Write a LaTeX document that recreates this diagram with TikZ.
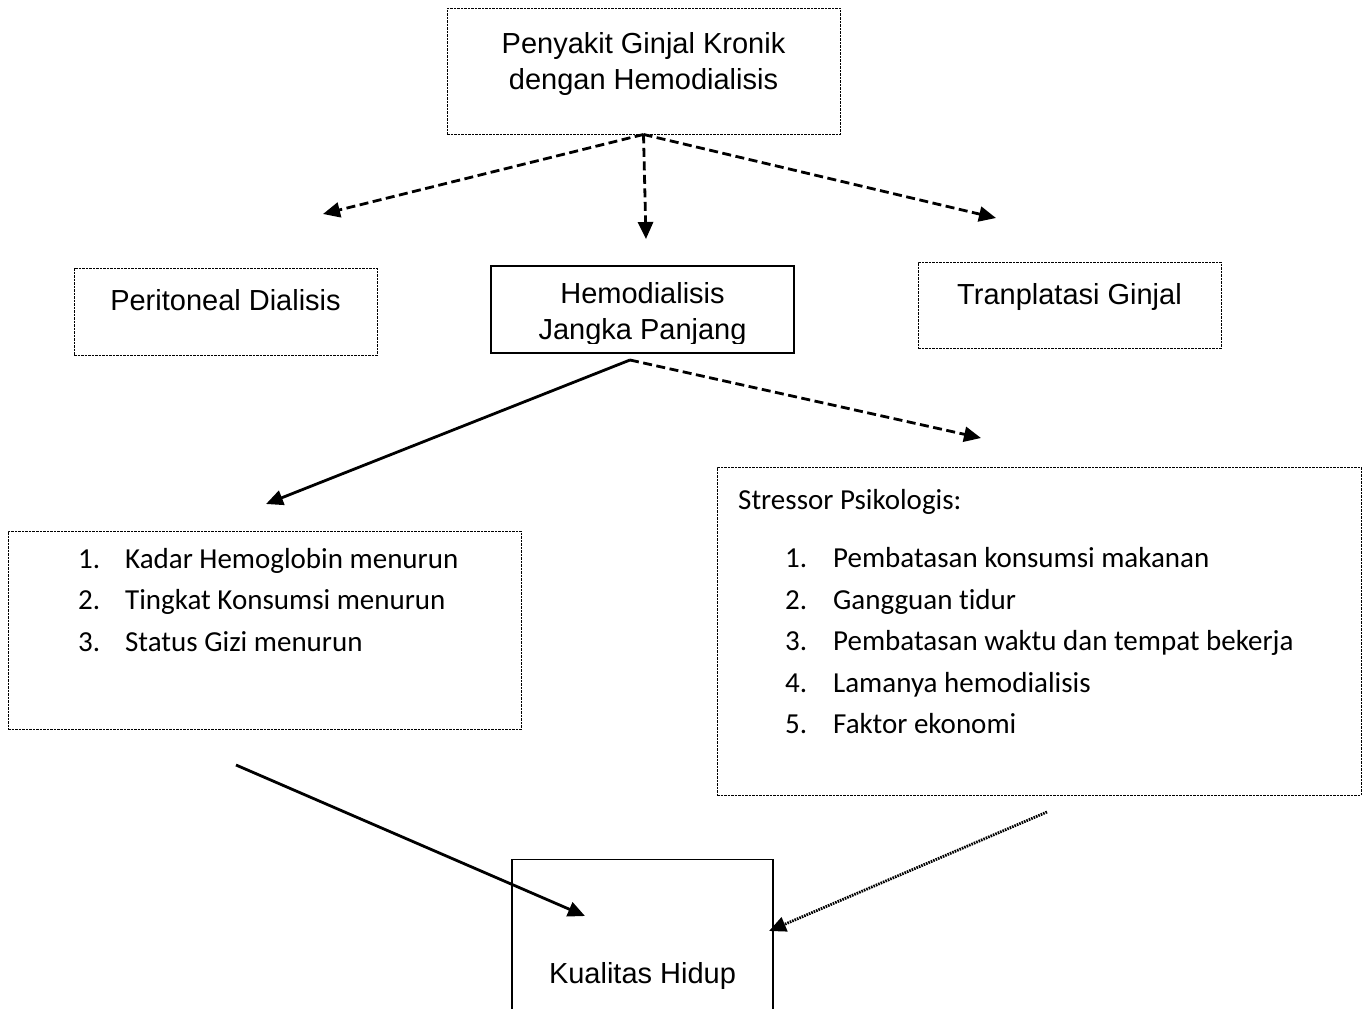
\documentclass[tikz,border=0pt]{standalone}
\usepackage{fontspec}
\setmainfont{Liberation Sans}
\newfontfamily\calibri[Ligatures=NoCommon]{Carlito}
\usetikzlibrary{arrows.meta}
\tikzstyle{arrow} = [line width=2.8pt,-{Triangle[length=17pt,width=15pt]}]
\tikzstyle{dasharrow} = [arrow,dash pattern=on 9pt off 4.5pt]
\tikzstyle{dotarrow} = [arrow,dash pattern=on 1.6pt off 1pt]
\tikzstyle{dotbox} = [draw,line width=0.9pt,dash pattern=on 2.5pt off 1pt]
\tikzstyle{linebox} = [draw,line width=1.3pt]
\tikzstyle{boxtext} = [font=\fontsize{29}{36}\selectfont,align=center,anchor=north]
\tikzstyle{listtext} = [font=\calibri\fontsize{29}{41.5}\selectfont,anchor=north west]

\begin{document}
\begin{tikzpicture}[x=1pt,y=-1pt,every node/.style={inner sep=0pt}]
	\useasboundingbox (0,0) rectangle (1369,1009);

	% kotak
	\node[dotbox,minimum width=393pt,minimum height=126pt] (pgk) at (643.5,71) {};
	\node[dotbox,minimum width=303pt,minimum height=87pt] (pd) at (225.5,311.5) {};
	\node[linebox,minimum width=303pt,minimum height=87pt] (hjp) at (642.5,309.5) {};
	\node[dotbox,minimum width=303pt,minimum height=86pt] (tg) at (1069.5,305) {};
	\node[dotbox,minimum width=513pt,minimum height=198pt] (gizi) at (264.5,630) {};
	\node[dotbox,minimum width=644pt,minimum height=328pt] (stres) at (1039,631) {};
	\node[linebox,minimum width=261pt,minimum height=180pt,anchor=north] (kh) at (642.5,859) {};

	% teks
	\node[boxtext] (pgk-t) at (643.5,32) {Penyakit Ginjal Kronik\\dengan Hemodialisis};
	\node[boxtext] (pd-t) at (225.5,289) {Peritoneal Dialisis};
	\begin{scope}
		\clip (hjp.north west) rectangle ([yshift=10.5pt]hjp.south east);
		\node[boxtext] (hjp-t) at (642.5,282) {Hemodialisis\\Jangka Panjang};
	\end{scope}
	\node[boxtext] (tg-t) at (1069.5,283) {Tranplatasi Ginjal};
	\node[boxtext] (kh-t) at (642.5,962) {Kualitas Hidup};

	\node[listtext] (gizi-t) at (78,539) {%
		\begin{tabular}{@{}p{35pt}l@{}}
			1. & Kadar Hemoglobin menurun\\
			2. & Tingkat Konsumsi menurun\\
			3. & Status Gizi menurun
		\end{tabular}};
	\node[listtext] (stres-t) at (738,480) {%
		\begin{tabular}{@{}p{35pt}p{36pt}l@{}}
			\multicolumn{3}{@{}l}{Stressor Psikologis:}\\[17pt]
			& 1. & Pembatasan konsumsi makanan\\
			& 2. & Gangguan tidur\\
			& 3. & Pembatasan waktu dan tempat bekerja\\
			& 4. & Lamanya hemodialisis\\
			& 5. & Faktor ekonomi
		\end{tabular}};

	% ujung panah
	\coordinate (a1) at (323,214);
	\coordinate (a2) at (646,239);
	\coordinate (a3) at (996,218);
	\coordinate (hjp-out) at (630,360);
	\coordinate (b1) at (266,504);
	\coordinate (b2) at (981,438);
	\coordinate (gizi-out) at (236,765);
	\coordinate (stres-out) at (1047,812);
	\coordinate (c1) at (585,916);
	\coordinate (c2) at (769,931);

	% panah
	\draw[dasharrow] (pgk.south) -- (a1);
	\draw[dasharrow] (pgk.south) -- (a2);
	\draw[dasharrow] (pgk.south) -- (a3);
	\draw[arrow] (hjp-out) -- (b1);
	\draw[dasharrow] (hjp-out) -- (b2);
	\draw[arrow] (gizi-out) -- (c1);
	\draw[dotarrow] (stres-out) -- (c2);
\end{tikzpicture}
\end{document}
